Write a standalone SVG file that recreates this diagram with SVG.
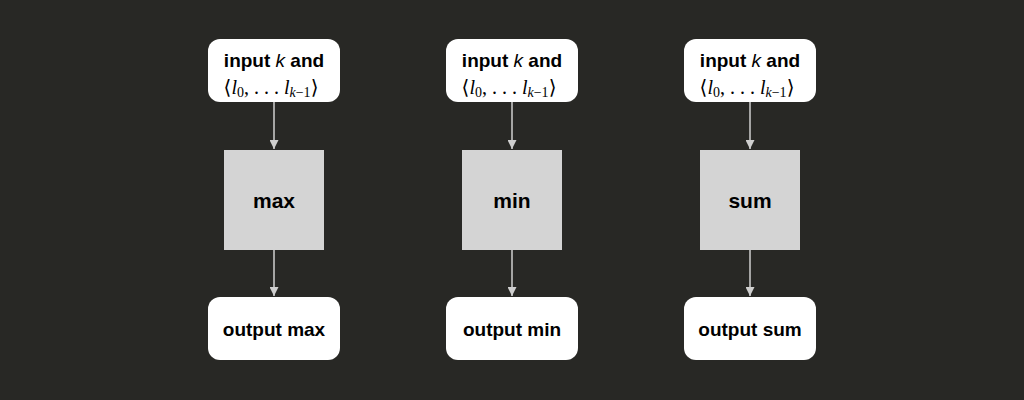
<svg xmlns="http://www.w3.org/2000/svg" width="1024" height="400" viewBox="0 0 1024 400">
<defs>
<style>
.io{fill:#ffffff;}
.op{fill:#d4d4d4;}
.t{font-family:"Liberation Sans",Arial,sans-serif;font-weight:bold;font-size:19px;fill:#000;text-anchor:middle;}
.b{font-size:21px;}
.k{font-weight:normal;font-style:italic;}
.m{font-family:"Liberation Serif","DejaVu Serif",serif;font-size:20px;fill:#000;text-anchor:middle;}
.i{font-style:italic;}
.s{font-size:14px;}
.e{stroke:#cfcfcf;stroke-width:1.5;fill:none;marker-end:url(#ah);}
</style>
<marker id="ah" viewBox="0 0 10 10" refX="10" refY="5" markerWidth="10" markerHeight="9" markerUnits="userSpaceOnUse" orient="auto">
<path d="M0,0 L10,5 L0,10 z" fill="#cfcfcf"/>
</marker>
</defs>
<rect width="1024" height="400" fill="#282825"/>
<g id="connectors">
<line class="e" x1="274" y1="102" x2="274" y2="149"/>
<line class="e" x1="274" y1="250" x2="274" y2="296"/>
<line class="e" x1="512" y1="102" x2="512" y2="149"/>
<line class="e" x1="512" y1="250" x2="512" y2="296"/>
<line class="e" x1="750" y1="102" x2="750" y2="149"/>
<line class="e" x1="750" y1="250" x2="750" y2="296"/>
</g>
<g id="in1">
<rect class="io" x="208" y="39" width="132" height="63" rx="12"/>
<text class="t" x="274" y="67">input <tspan class="k">k</tspan> and</text>
<text class="m" x="271" y="94">⟨<tspan class="i">l</tspan><tspan class="s" dy="3">0</tspan><tspan dy="-3">, . . . </tspan><tspan class="i">l</tspan><tspan class="s" dy="3"><tspan class="i">k</tspan>−1</tspan><tspan dy="-3">⟩</tspan></text>
</g>
<g id="max">
<rect class="op" x="224" y="150" width="100" height="100"/>
<text class="t b" x="274" y="208">max</text>
</g>
<g id="out1">
<rect class="io" x="208" y="297" width="132" height="63" rx="12"/>
<text class="t" x="274" y="336">output max</text>
</g>
<g id="in2">
<rect class="io" x="446" y="39" width="132" height="63" rx="12"/>
<text class="t" x="512" y="67">input <tspan class="k">k</tspan> and</text>
<text class="m" x="509" y="94">⟨<tspan class="i">l</tspan><tspan class="s" dy="3">0</tspan><tspan dy="-3">, . . . </tspan><tspan class="i">l</tspan><tspan class="s" dy="3"><tspan class="i">k</tspan>−1</tspan><tspan dy="-3">⟩</tspan></text>
</g>
<g id="min">
<rect class="op" x="462" y="150" width="100" height="100"/>
<text class="t b" x="512" y="208">min</text>
</g>
<g id="out2">
<rect class="io" x="446" y="297" width="132" height="63" rx="12"/>
<text class="t" x="512" y="336">output min</text>
</g>
<g id="in3">
<rect class="io" x="684" y="39" width="132" height="63" rx="12"/>
<text class="t" x="750" y="67">input <tspan class="k">k</tspan> and</text>
<text class="m" x="747" y="94">⟨<tspan class="i">l</tspan><tspan class="s" dy="3">0</tspan><tspan dy="-3">, . . . </tspan><tspan class="i">l</tspan><tspan class="s" dy="3"><tspan class="i">k</tspan>−1</tspan><tspan dy="-3">⟩</tspan></text>
</g>
<g id="sum">
<rect class="op" x="700" y="150" width="100" height="100"/>
<text class="t b" x="750" y="208">sum</text>
</g>
<g id="out3">
<rect class="io" x="684" y="297" width="132" height="63" rx="12"/>
<text class="t" x="750" y="336">output sum</text>
</g>
</svg>
